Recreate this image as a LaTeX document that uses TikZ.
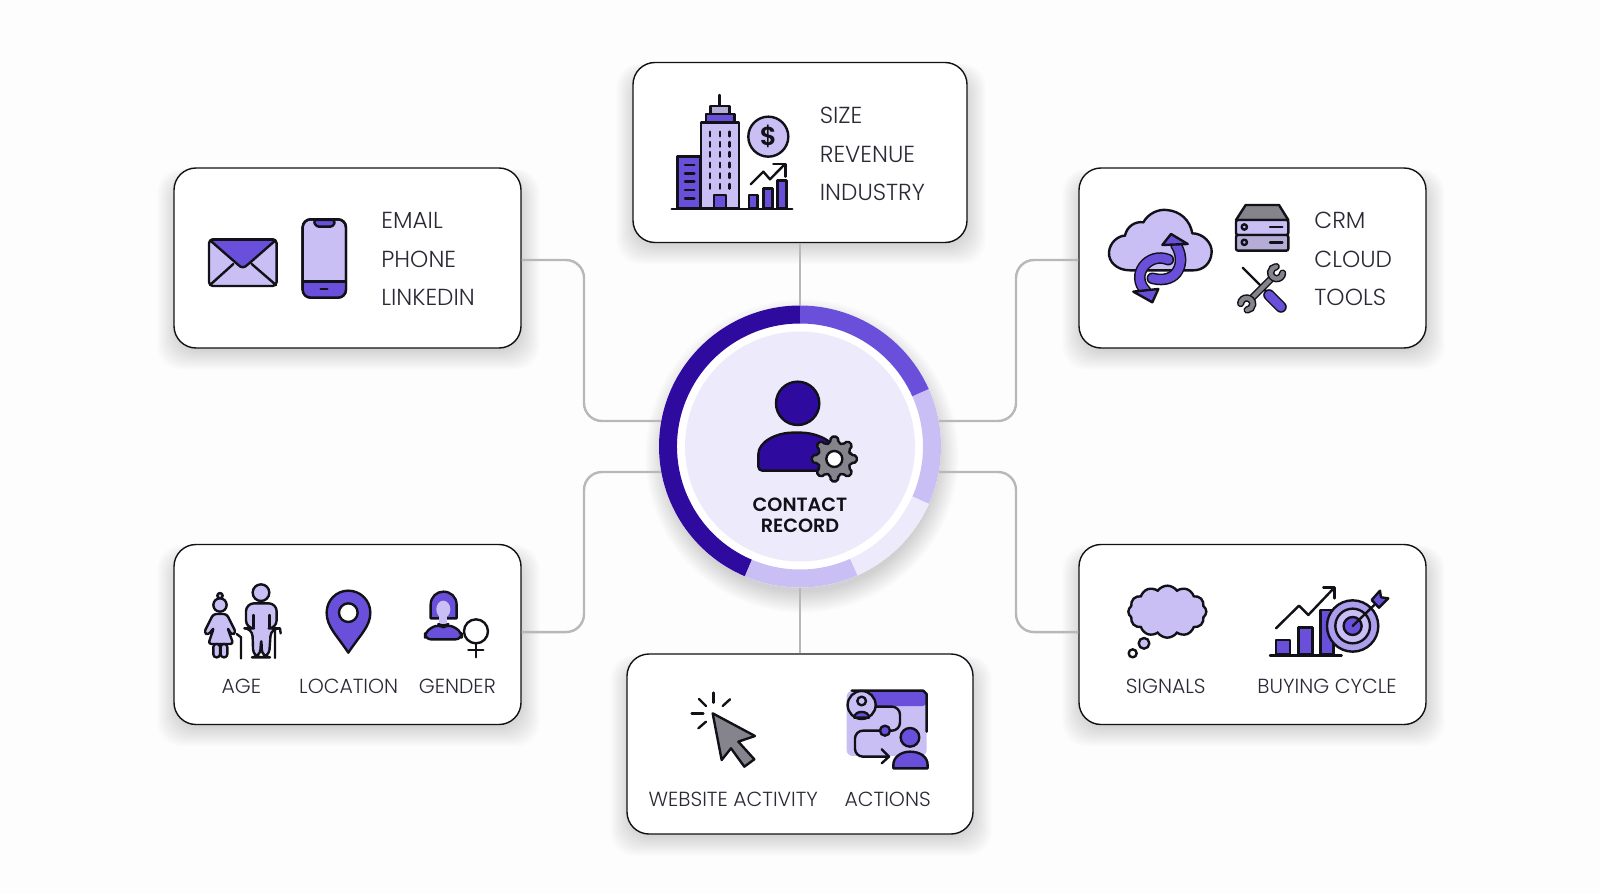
\documentclass[tikz,border=0pt]{standalone}
\usepackage{xcolor}
\usepackage{fontspec}
\setmainfont{Poppins}[UprightFont=* Light, BoldFont=* SemiBold]
\usepackage{tikz}
\usetikzlibrary{shapes.symbols, calc}
\definecolor{mypage}{RGB}{253,253,253}
\definecolor{mydark}{RGB}{46,10,158}
\definecolor{mymed}{RGB}{106,79,219}
\definecolor{mylight}{RGB}{201,191,245}
\definecolor{mypale}{RGB}{237,234,251}
\definecolor{mygray}{RGB}{133,131,140}
\definecolor{mylink}{RGB}{184,184,188}
\definecolor{myink}{RGB}{17,17,24}
\definecolor{mytext}{RGB}{42,42,54}
\tikzset{
  cardbox/.style={rectangle, draw=myink, fill=white, rounded corners=11pt,
    minimum height=90pt, inner sep=0pt, line width=0.7pt},
  link/.style={draw=mylink, line width=1.2pt, rounded corners=9pt},
  lbl/.style={inner sep=0pt, font=\fontsize{10.2}{12}\selectfont, color=mytext},
  listlbl/.style={inner sep=0pt, anchor=west, font=\fontsize{11.6}{13}\selectfont, color=mytext},
  hublbl/.style={inner sep=0pt, font=\fontsize{9.6}{11}\selectfont\bfseries, color=myink},
  icon/.style={draw=myink, line width=1.2pt, line join=round, line cap=round},
  band/.style={draw=myink, line width=0.75pt, line cap=round, double distance=4.3pt},
  thinband/.style={draw=myink, line width=0.75pt, line cap=round, double distance=2.2pt}
}
% soft shadow, then the card itself
\newcommand{\card}[4]{%
  \foreach \g in {1,...,22}
    \fill[black, opacity=0.007, rounded corners=12pt]
      ({#2-#4/2-\g+5},{#3-90+14-0.6*\g}) rectangle ({#2+#4/2+\g-3},{#3+90+\g});
  \node[cardbox, minimum width=#4*0.5pt] (#1) at (#2,#3) {};
}
\begin{document}
\begin{tikzpicture}[x=0.5pt, y=-0.5pt]
  \useasboundingbox[fill=mypage] (0,0) rectangle (1600,893);

  % Hub shadow
  \foreach \g in {1,...,22}
    \fill[black, opacity=0.008] (802,456) circle[radius=141+\g-6];

  % Cards
  \card{firmo}{800}{152.5}{334}
  \card{chan}{347.5}{258}{347}
  \card{stack}{1252.5}{258}{347}
  \card{demo}{347.5}{634.5}{347}
  \card{intent}{1252.5}{634.5}{347}
  \card{behav}{800}{744}{346}

  % Connectors
  \coordinate (hubnw) at (670,421);
  \coordinate (hubsw) at (670,472);
  \coordinate (hubne) at (930,421);
  \coordinate (hubse) at (930,472);
  \coordinate (hubn) at (800,320);
  \coordinate (hubs) at (800,575);
  \coordinate (colw) at (584,446);
  \coordinate (cole) at (1016,446);
  \coordinate (chanport) at ([yshift=-1pt]chan.east);
  \coordinate (demoport) at ([yshift=1.2pt]demo.east);
  \coordinate (stackport) at ([yshift=-1pt]stack.west);
  \coordinate (intentport) at ([yshift=1.2pt]intent.west);
  \draw[link] (chanport) -- (chanport -| colw) -- (hubnw -| colw) -- (hubnw);
  \draw[link] (demoport) -- (demoport -| colw) -- (hubsw -| colw) -- (hubsw);
  \draw[link] (stackport) -- (stackport -| cole) -- (hubne -| cole) -- (hubne);
  \draw[link] (intentport) -- (intentport -| cole) -- (hubse -| cole) -- (hubse);
  \draw[link] (firmo.south) -- (hubn);
  \draw[link] (behav.north) -- (hubs);

  % Hub ring
  \begin{scope}[shift={(800,446.5)}, y=0.5pt]
    \fill[white] (0,0) circle[radius=141];
    \fill[mydark] (90:141) arc[start angle=90, end angle=247, radius=141] -- (247:123) arc[start angle=247, end angle=90, radius=123] -- cycle;
    \fill[mymed] (90:141) arc[start angle=90, end angle=24, radius=141] -- (24:123) arc[start angle=24, end angle=90, radius=123] -- cycle;
    \fill[mylight] (24:141) arc[start angle=24, end angle=-24, radius=141] -- (-24:123) arc[start angle=-24, end angle=24, radius=123] -- cycle;
    \fill[mypale] (-24:141) arc[start angle=-24, end angle=-66, radius=141] -- (-66:123) arc[start angle=-66, end angle=-24, radius=123] -- cycle;
    \fill[mylight] (-66:141) arc[start angle=-66, end angle=-113, radius=141] -- (-113:123) arc[start angle=-113, end angle=-66, radius=123] -- cycle;
    \node[circle, fill=mypale, minimum size=115pt, inner sep=0pt] (hub) at (0,0) {};
  \end{scope}

  % Hub person and gear
  \begin{scope}[shift={(640,290)}, scale=0.3333]
    \draw[icon, fill=mydark] (473,340) circle[radius=65];
    \draw[icon, fill=mydark, rounded corners=2pt] (355,542) -- (355,505) .. controls (355,455) and (410,428) .. (470,428) .. controls (530,428) and (590,455) .. (590,505) -- (590,542) -- cycle;
    \begin{scope}[shift={(583,507)}]
      \draw[icon, fill=mygray, rounded corners=1pt] (-14:50) \foreach \a in {0,45,...,315} { -- (\a-14:50) -- (\a-9:68) -- (\a+9:68) -- (\a+14:50) } -- cycle;
      \draw[icon, fill=white] (0,0) circle[radius=24];
    \end{scope}
  \end{scope}
  \node[hublbl] (hubtop) at (800,504.3) {CONTACT};
  \node[hublbl] (hubbot) at (800,526) {RECORD};

  % Building, coin, chart
  \begin{scope}[shift={(630,60)}, scale=0.3333]
    \draw[icon, fill=mymed] (142,290) rectangle (210,445);
    \foreach \y in {315,340,365,390,415}
      \draw[icon] (165,\y) -- (193,\y);
    \draw[icon, fill=mylight] (213,188) rectangle (327,445);
    \foreach \x in {240,270,298}
      \foreach \y in {222,253,283,315,347,379}
        \draw[icon] (\x,\y-7) -- (\x,\y+7);
    \draw[icon, fill=mymed] (252,405) rectangle (288,445);
    \draw[icon, fill=mymed] (228,162) rectangle (313,188);
    \draw[icon, fill=mylight!70!mygray] (241,138) rectangle (298,162);
    \draw[icon] (269,105) -- (269,138);
    \draw[icon] (125,447) -- (487,447);
    \draw[icon, fill=mylight] (415,230) circle[radius=60];
    \node[inner sep=0pt, font=\fontsize{13}{14}\selectfont\bfseries, color=myink] (coin) at (415,230) {\$};
    \draw[icon] (362,373) -- (400,335) -- (420,358) -- (465,312);
    \draw[icon] (430,312) -- (467,312) -- (467,350);
    \draw[icon, fill=mymed] (357,405) rectangle (383,445);
    \draw[icon, fill=mymed] (400,385) rectangle (427,445);
    \draw[icon, fill=mymed] (443,362) rectangle (470,445);
  \end{scope}
  \node[listlbl] (size) at (819.5,115) {SIZE};
  \node[listlbl] (revenue) at (819.5,154) {REVENUE};
  \node[listlbl] (industry) at (819.5,192) {INDUSTRY};

  % Envelope and phone
  \begin{scope}[shift={(170,165)}, scale=0.3333]
    \draw[icon, fill=mylight, rounded corners=2pt] (117,223) rectangle (320,363);
    \draw[icon, fill=mymed, rounded corners=1.5pt] (118,224) -- (319,224) -- (232,300) -- (218,310) -- (205,300) -- cycle;
    \draw[icon] (120,360) -- (190,297);
    \draw[icon] (318,360) -- (245,297);
    \draw[icon, fill=mylight, rounded corners=4pt] (398,163) rectangle (528,398);
    \begin{scope}
      \clip[rounded corners=4pt] (398,163) rectangle (528,398);
      \fill[mymed] (398,350) rectangle (528,398);
    \end{scope}
    \draw[icon] (398,350) -- (528,350);
    \draw[icon, fill=mymed, rounded corners=1.5pt] (430,165) -- (496,165) -- (490,185) -- (438,185) -- cycle;
    \draw[icon] (452,372) -- (472,372);
    \draw[icon, rounded corners=4pt] (398,163) rectangle (528,398);
  \end{scope}
  \node[listlbl] (email) at (381,220.7) {EMAIL};
  \node[listlbl] (phone) at (381,259) {PHONE};
  \node[listlbl] (linkedin) at (381,297.7) {LINKEDIN};

  % Cloud, server, tools
  \begin{scope}[shift={(1075,165)}, scale=0.3333]
    \draw[icon, fill=mylight] (165,316) .. controls (125,316) and (100,290) .. (102,262) .. controls (104,232) and (130,212) .. (150,212) .. controls (155,185) and (180,168) .. (205,172) .. controls (220,145) and (250,132) .. (275,135) .. controls (315,138) and (345,165) .. (352,205) .. controls (385,205) and (412,235) .. (410,262) .. controls (408,295) and (385,316) .. (355,316) -- cycle;
    \draw[band, double=mymed] (232,340) .. controls (310,360) and (335,290) .. (303,240);
    \draw[icon, fill=mymed] (262,240) -- (288,207) -- (338,237) -- cycle;
    \draw[band, double=mymed] (280,284) .. controls (220,260) and (165,330) .. (212,378);
    \draw[icon, fill=mymed] (175,380) -- (232,412) -- (250,372) -- cycle;
    \draw[icon, fill=mygray] (483,165) -- (512,120) -- (612,120) -- (640,165) -- cycle;
    \draw[icon, fill=mylight, rounded corners=1pt] (483,165) rectangle (640,210);
    \draw[icon, fill=mylight!70!mygray, rounded corners=1pt] (483,210) rectangle (640,257);
    \draw[icon] (508,186) circle[radius=8];
    \draw[icon] (508,232) circle[radius=8];
    \draw[icon] (585,186) -- (622,186);
    \draw[icon] (585,232) -- (622,232);
    \draw[icon] (503,308) -- (578,383);
    \draw[thinband, double=mygray] (527,403) -- (593,337);
    \draw[thinband, double=mygray] ([shift={(5:18)}]605,323) arc[start angle=5, end angle=265, radius=18];
    \draw[thinband, double=mygray] ([shift={(185:18)}]515,417) arc[start angle=185, end angle=445, radius=18];
    \draw[band, double=mymed] (582,390) -- (618,426);
  \end{scope}
  \node[listlbl] (crm) at (1314,220.7) {CRM};
  \node[listlbl] (cloud) at (1314,259) {CLOUD};
  \node[listlbl] (tools) at (1314,297.7) {TOOLS};

  % Age, location, gender
  \begin{scope}[shift={(170,540)}, scale=0.3333]
    \draw[icon, fill=mylight] (150,167) circle[radius=8];
    \draw[icon, fill=mylight] (150,195) circle[radius=20];
    \draw[icon, fill=mylight, rounded corners=1.5pt] (130,222) -- (170,222) -- (198,278) -- (185,285) -- (172,262) -- (190,312) -- (115,312) -- (132,262) -- (115,285) -- (102,278) -- cycle;
    \draw[icon, fill=mylight, rounded corners=1.5pt] (130,312) rectangle (150,352);
    \draw[icon, fill=mylight, rounded corners=1.5pt] (152,312) rectangle (172,352);
    \draw[icon] (200,282) -- (213,292) -- (213,355);
    \draw[icon, fill=mylight] (273,158) circle[radius=25];
    \draw[icon, fill=mylight, rounded corners=4pt] (228,265) -- (228,190) -- (320,190) -- (320,265) -- (303,265) -- (297,352) -- (276,352) -- (274,290) -- (270,352) -- (250,352) -- (247,265) -- cycle;
    \draw[icon] (250,225) -- (250,262);
    \draw[icon] (298,225) -- (298,262);
    \draw[icon] (315,354) -- (315,265) -- (330,265) -- (332,280);
    \draw[icon, fill=mymed] (535,338) .. controls (500,285) and (470,260) .. (470,218) .. controls (470,180) and (500,152) .. (535,152) .. controls (570,152) and (601,180) .. (601,218) .. controls (601,260) and (570,285) .. (535,338) -- cycle;
    \draw[icon, fill=white] (535,218) circle[radius=28];
    \draw[icon, fill=mymed] (782,235) -- (782,195) .. controls (782,170) and (800,155) .. (820,155) .. controls (842,155) and (860,170) .. (860,195) -- (860,235) -- cycle;
    \fill[mylight] (820,208) ellipse[x radius=21, y radius=26];
    \fill[mylight] (808,225) rectangle (832,258);
    \draw[icon, fill=mymed, rounded corners=3pt] (765,298) -- (765,275) -- (805,252) -- (820,262) -- (835,252) -- (875,275) -- (875,298) -- cycle;
    \draw[icon, fill=white] (918,274) circle[radius=36];
    \draw[icon] (918,310) -- (918,352);
    \draw[icon] (895,330) -- (940,330);
  \end{scope}
  \node[lbl] (age) at (241.3,686) {AGE};
  \node[lbl] (location) at (348.7,686) {LOCATION};
  \node[lbl] (gender) at (457.3,686) {GENDER};

  % Thought bubble and target chart
  \begin{scope}[shift={(1075,540)}, scale=0.3333]
    \node[cloud, cloud puffs=12, cloud puff arc=110, draw=myink, fill=mylight, line width=1.2pt, inner sep=0pt, minimum width=39pt, minimum height=26pt, cloud ignores aspect] (thought) at (277,215) {};
    \draw[icon, fill=mylight] (207,310) circle[radius=16];
    \draw[icon, fill=white] (173,340) circle[radius=12];
    \draw[icon, fill=mymed] (603,300) rectangle (645,344);
    \draw[icon, fill=mymed] (670,263) rectangle (713,344);
    \draw[icon, fill=mymed] (737,210) rectangle (775,344);
    \draw[icon] (585,346) -- (800,346);
    \draw[icon] (603,265) -- (672,197) -- (700,225) -- (778,143);
    \draw[icon] (745,143) -- (778,143) -- (778,175);
    \draw[icon, fill=mylight!70!mymed] (833,258) circle[radius=77];
    \draw[icon, fill=mylight] (833,258) circle[radius=52];
    \draw[icon, fill=mymed] (833,258) circle[radius=27];
    \draw[icon] (833,258) -- (898,195);
    \draw[icon, fill=mymed] (890,180) -- (915,152) -- (918,172) -- (940,175) -- (912,203) -- cycle;
  \end{scope}
  \node[lbl] (signals) at (1165.7,686) {SIGNALS};
  \node[lbl] (buying) at (1327,686) {BUYING CYCLE};

  % Cursor and journey
  \begin{scope}[shift={(625,650)}, scale=0.3333]
    \draw[icon, fill=mygray] (263,190) -- (390,258) -- (340,275) -- (388,328) -- (358,350) -- (318,295) -- (290,330) -- cycle;
    \draw[icon] (265,128) -- (265,158);
    \draw[icon] (222,147) -- (243,168);
    \draw[icon] (315,148) -- (293,168);
    \draw[icon] (200,190) -- (235,190);
    \draw[icon] (220,235) -- (243,215);
    \fill[mylight, rounded corners=3pt] (665,122) rectangle (905,318);
    \fill[mymed, rounded corners=2pt] (690,122) rectangle (905,168);
    \draw[icon] (680,122) -- (895,122) -- (905,132) -- (905,245);
    \draw[icon, rounded corners=4pt] (745,170) -- (825,170) -- (825,242) -- (690,242) -- (690,320) -- (790,320);
    \draw[icon] (770,298) -- (792,320) -- (770,340);
    \draw[icon, fill=mymed] (780,242) circle[radius=15];
    \draw[icon, fill=mylight] (710,165) circle[radius=42];
    \draw[icon, fill=mylight] (710,153) circle[radius=13];
    \draw[icon, fill=mymed] (688,203) .. controls (688,180) and (732,180) .. (732,203) -- cycle;
    \draw[icon, fill=mymed] (855,262) circle[radius=28];
    \draw[icon, fill=mymed] (805,355) -- (805,345) .. controls (805,320) and (830,305) .. (855,305) .. controls (885,305) and (908,320) .. (908,345) -- (908,355) -- cycle;
  \end{scope}
  \node[lbl] (website) at (733.3,799) {WEBSITE ACTIVITY};
  \node[lbl] (actions) at (887.7,799) {ACTIONS};
\end{tikzpicture}
\end{document}
